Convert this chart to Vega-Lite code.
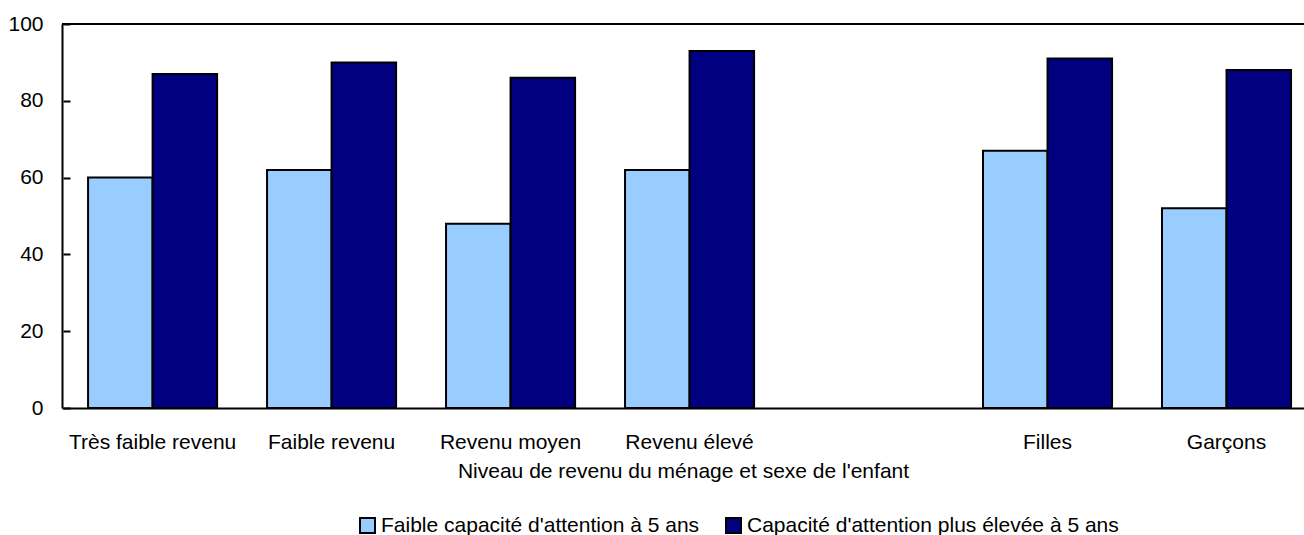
{
  "$schema": "https://vega.github.io/schema/vega-lite/v6.json",
  "width": 1242,
  "height": 384,
  "autosize": {"type": "none"},
  "padding": {"left": 62, "top": 24, "right": 0, "bottom": 127},
  "config": {
    "view": {"stroke": null},
    "font": "Liberation Sans",
    "axis": {"labelColor": "#000", "titleColor": "#000", "domainColor": "#000", "tickColor": "#000", "grid": false},
    "axisY": {"tickWidth": 2, "domainWidth": 2, "labelFontSize": 21}
  },
  "data": {
    "values": [
      {"categorie": "Très faible revenu", "groupe": "Faible capacité d'attention à 5 ans", "pourcentage": 60},
      {"categorie": "Très faible revenu", "groupe": "Capacité d'attention plus élevée à 5 ans", "pourcentage": 87},
      {"categorie": "Faible revenu", "groupe": "Faible capacité d'attention à 5 ans", "pourcentage": 62},
      {"categorie": "Faible revenu", "groupe": "Capacité d'attention plus élevée à 5 ans", "pourcentage": 90},
      {"categorie": "Revenu moyen", "groupe": "Faible capacité d'attention à 5 ans", "pourcentage": 48},
      {"categorie": "Revenu moyen", "groupe": "Capacité d'attention plus élevée à 5 ans", "pourcentage": 86},
      {"categorie": "Revenu élevé", "groupe": "Faible capacité d'attention à 5 ans", "pourcentage": 62},
      {"categorie": "Revenu élevé", "groupe": "Capacité d'attention plus élevée à 5 ans", "pourcentage": 93},
      {"categorie": "Filles", "groupe": "Faible capacité d'attention à 5 ans", "pourcentage": 67},
      {"categorie": "Filles", "groupe": "Capacité d'attention plus élevée à 5 ans", "pourcentage": 91},
      {"categorie": "Garçons", "groupe": "Faible capacité d'attention à 5 ans", "pourcentage": 52},
      {"categorie": "Garçons", "groupe": "Capacité d'attention plus élevée à 5 ans", "pourcentage": 88}
    ]
  },
  "resolve": {"axis": {"y": "independent"}},
  "layer": [
    {
      "mark": {"type": "bar", "stroke": "#000", "strokeWidth": 2},
      "encoding": {
        "x": {
          "field": "categorie",
          "type": "nominal",
          "sort": null,
          "scale": {
            "domain": ["Très faible revenu", "Faible revenu", "Revenu moyen", "Revenu élevé", " ", "Filles", "Garçons"],
            "paddingInner": 0.279,
            "paddingOuter": 0.109,
            "align": 0.668
          },
          "axis": {
            "title": "Niveau de revenu du ménage et sexe de l'enfant",
            "titleFontSize": 21,
            "titleFontWeight": "normal",
            "titlePadding": 8,
            "labelFontSize": 21,
            "labelPadding": 23,
            "labelAngle": 0,
            "ticks": false,
            "domainWidth": 2
          }
        },
        "xOffset": {
          "field": "groupe",
          "type": "nominal",
          "sort": ["Faible capacité d'attention à 5 ans", "Capacité d'attention plus élevée à 5 ans"],
          "scale": {"paddingInner": 0, "paddingOuter": 0}
        },
        "y": {
          "field": "pourcentage",
          "type": "quantitative",
          "scale": {"domain": [0, 100], "nice": false},
          "axis": {
            "title": null,
            "orient": "left",
            "values": [0, 20, 40, 60, 80, 100],
            "ticks": false,
            "labelPadding": 19
          }
        },
        "color": {
          "field": "groupe",
          "type": "nominal",
          "sort": ["Faible capacité d'attention à 5 ans", "Capacité d'attention plus élevée à 5 ans"],
          "scale": {
            "domain": ["Faible capacité d'attention à 5 ans", "Capacité d'attention plus élevée à 5 ans"],
            "range": ["#99CCFF", "#000080"]
          },
          "legend": {
            "title": null,
            "orient": "none",
            "direction": "horizontal",
            "legendX": 295,
            "legendY": 491,
            "symbolType": "square",
            "symbolSize": 225,
            "symbolStrokeColor": "#000",
            "symbolStrokeWidth": 2,
            "symbolOpacity": 1,
            "labelFontSize": 21,
            "labelColor": "#000",
            "labelOffset": 3,
            "labelLimit": 0,
            "columnPadding": 22
          }
        }
      }
    },
    {
      "mark": {"type": "rule", "stroke": "#000", "strokeWidth": 2},
      "encoding": {
        "y": {
          "datum": 100,
          "axis": {
            "title": null,
            "orient": "left",
            "offset": -8,
            "values": [0, 20, 40, 60, 80, 100],
            "ticks": true,
            "tickSize": 7,
            "labels": false,
            "domain": false
          }
        }
      }
    }
  ]
}
